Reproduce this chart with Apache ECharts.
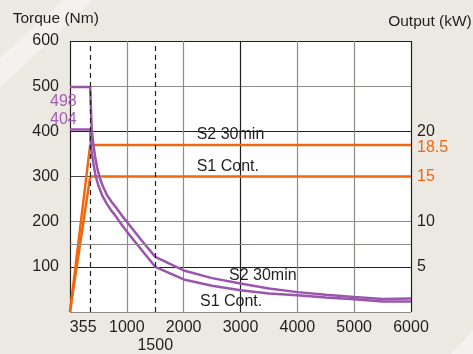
<!DOCTYPE html>
<html>
<head>
<meta charset="utf-8">
<script src="https://cdn.jsdelivr.net/npm/echarts@6/dist/echarts.min.js"></script>
<style>
html, body { margin: 0; padding: 0; background: #ece8e2; }
#main { width: 473px; height: 354px; }
</style>
</head>
<body>
<div id="main"></div>
<script>
// torque curves (rpm / Nm)
var speedS2 = [0, 355, 382, 410, 441, 480, 529, 580, 646, 730, 823, 910, 1000, 1250, 1500, 2000, 2500, 3000, 3500, 4000, 4500, 5000, 5500, 6000];
var torqueS2 = [498, 498, 403, 372, 345, 318, 295, 278, 260, 244, 229, 214, 200, 160, 122, 92, 75, 63, 52, 44, 38, 33, 29, 30];
var speedS1 = [0, 355, 364, 375, 411, 450, 500, 570, 646, 730, 823, 910, 1000, 1250, 1500, 2000, 2500, 3000, 3500, 4000, 4500, 5000, 5500, 6000];
var torqueS1 = [404, 404, 374, 360, 330, 302, 280, 257, 240, 224, 209, 193, 178, 139, 100, 72, 58, 48, 41, 37, 32, 28, 23, 23];

// output curves (rpm / kW)
var powerSpeed = [0, 355, 6000];
var powerS2 = [0, 18.5, 18.5];
var powerS1 = [0, 15, 15];

var speedTicks = [355, 1000, 1500, 2000, 3000, 4000, 5000, 6000];
var outputTicks = [5, 10, 15, 18.5, 20];
var dashedSpeeds = [355, 1500];

var purple = '#9a56ad';
var orange = '#f0670f';
var ink = '#231f20';
var font = '"Liberation Sans", Arial, sans-serif';

function pairs(xs, ys) {
    return xs.map(function (x, i) { return [x, ys[i]]; });
}

var chart = echarts.init(document.getElementById('main'));

var option = {
    animation: false,
    backgroundColor: '#ece8e2',
    textStyle: { fontFamily: font },
    grid: {
        left: 70, right: 62, top: 41, bottom: 41,
        show: true, backgroundColor: '#fff', borderWidth: 0
    },
    xAxis: {
        type: 'value', min: 0, max: 6000, interval: 1000,
        axisLine: { show: false },
        axisTick: { show: false },
        splitLine: {
            lineStyle: {
                width: 1.2,
                color: [ink, '#8f8b89', '#8f8b89', ink, '#8f8b89', '#8f8b89', ink]
            }
        },
        axisLabel: {
            customValues: speedTicks,
            margin: 8,
            fontSize: 16, color: ink, fontFamily: font,
            formatter: function (v) {
                if (v === 355) return '{l|355}';
                if (v === 1500) return '{d|1500}';
                return v;
            },
            rich: {
                l: { fontSize: 16, color: ink, fontFamily: font, padding: [0, 14, 0, 0] },
                d: { fontSize: 16, color: ink, fontFamily: font, padding: [18, 0, 0, 0] }
            }
        }
    },
    yAxis: [
        {
            type: 'value', min: 0, max: 600, interval: 100,
            axisLine: { show: false },
            axisTick: { show: false },
            splitLine: {
                lineStyle: {
                    width: 1.2,
                    color: ['#8f8b89', ink, '#8f8b89', '#4a4647', ink, '#8f8b89', ink]
                }
            },
            axisLabel: {
                margin: 11, fontSize: 16, color: ink, fontFamily: font,
                formatter: function (v) { return v === 0 ? '' : v; }
            }
        },
        {
            type: 'value', min: 0, max: 30, interval: 5,
            position: 'right',
            axisLine: { show: false },
            axisTick: { show: false },
            splitLine: { show: false },
            axisLabel: {
                customValues: outputTicks,
                margin: 6, fontSize: 16, color: ink, fontFamily: font,
                formatter: function (v) {
                    if (v === 18.5) return '{o2|18.5}';
                    if (v === 15) return '{o|15}';
                    return v;
                },
                rich: {
                    o: { fontSize: 16, color: orange, fontFamily: font },
                    o2: { fontSize: 16, color: orange, fontFamily: font, padding: [6, 0, 0, 0] }
                }
            }
        }
    ],
    series: [
        {
            name: 'S2 30min kW', type: 'line', yAxisIndex: 1, z: 2,
            data: pairs(powerSpeed, powerS2),
            symbol: 'none',
            lineStyle: { color: orange, width: 2.5 }
        },
        {
            name: 'S1 Cont. kW', type: 'line', yAxisIndex: 1, z: 2,
            data: pairs(powerSpeed, powerS1),
            symbol: 'none',
            lineStyle: { color: orange, width: 2.5 }
        },
        {
            name: 'S2 30min Nm', type: 'line', yAxisIndex: 0, z: 3,
            data: pairs(speedS2, torqueS2),
            symbol: 'none',
            lineStyle: { color: purple, width: 2.5 },
            markLine: {
                silent: true,
                symbol: 'none',
                label: { show: false },
                data: dashedSpeeds.map(function (s) {
                    return { xAxis: s, lineStyle: { type: [5, 4], color: ink, width: 1.2 } };
                }).concat([{ yAxis: 150, lineStyle: { type: 'solid', color: '#8f8b89', width: 1.2 } }])
            }
        },
        {
            name: 'S1 Cont. Nm', type: 'line', yAxisIndex: 0, z: 3,
            data: pairs(speedS1, torqueS1),
            symbol: 'none',
            lineStyle: { color: purple, width: 2.5 }
        }
    ],
    graphic: [
        { type: 'polygon', z: -10, shape: { points: [[63, 0], [93, 0], [0, 88], [0, 58]] }, style: { fill: '#f4f2ee' } },
        { type: 'polygon', z: -10, shape: { points: [[473, 330], [473, 354], [451, 354]] }, style: { fill: '#f4f2ee' } },
        { type: 'text', x: 12.7, y: 19, style: { text: 'Torque (Nm)', fill: ink, font: '15.5px ' + font, verticalAlign: 'middle' } },
        { type: 'text', x: 471.7, y: 21.5, style: { text: 'Output (kW)', fill: ink, font: '15.5px ' + font, align: 'right', verticalAlign: 'middle' } },
        { type: 'text', x: 50, y: 102, z: 10, style: { text: '498', fill: '#a45fb2', font: '16px ' + font, verticalAlign: 'middle' } },
        { type: 'text', x: 50, y: 120, z: 10, style: { text: '404', fill: '#a45fb2', font: '16px ' + font, verticalAlign: 'middle' } },
        { type: 'text', x: 196.7, y: 135, z: 10, style: { text: 'S2 30min', fill: ink, font: '16px ' + font, verticalAlign: 'middle' } },
        { type: 'text', x: 196.7, y: 167, z: 10, style: { text: 'S1 Cont.', fill: ink, font: '16px ' + font, verticalAlign: 'middle' } },
        { type: 'text', x: 229, y: 275.5, z: 10, style: { text: 'S2 30min', fill: ink, font: '16px ' + font, verticalAlign: 'middle' } },
        { type: 'text', x: 200, y: 301.5, z: 10, style: { text: 'S1 Cont.', fill: ink, font: '16px ' + font, verticalAlign: 'middle' } }
    ]
};

chart.setOption(option);
window.addEventListener('resize', function () {
    chart.resize();
});
</script>
</body>
</html>
